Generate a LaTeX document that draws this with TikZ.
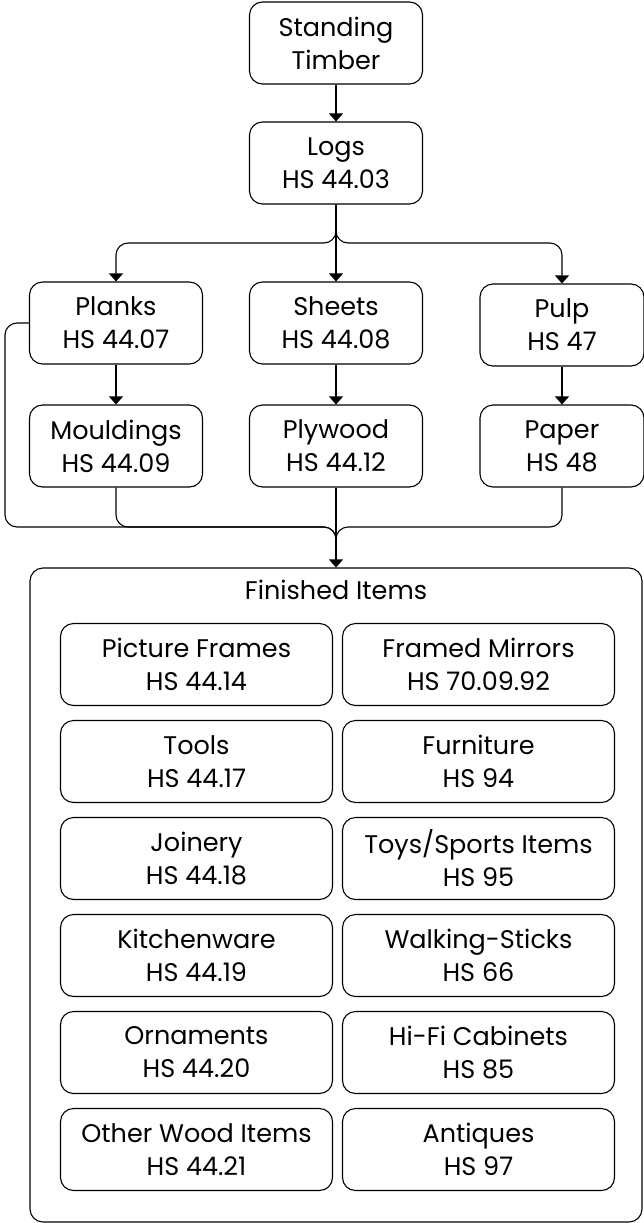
\documentclass[tikz,border=0pt]{standalone}
\usepackage{fontspec}
\setmainfont{Poppins}
\usepackage{tikz}
\usetikzlibrary{arrows.meta}
\tikzset{%
  tipA/.tip={Triangle[width=14pt,length=8pt]},
  box/.style={draw, rounded corners=13pt, line width=1.1pt, minimum width=173pt, minimum height=82pt, inner sep=0pt, align=center, font=\fontsize{25.5}{33}\selectfont},
  itembox/.style={box, minimum width=272pt},
  conn/.style={line width=1.1pt, rounded corners=12pt}
}
\begin{document}
\begin{tikzpicture}[x=1pt,y=-1pt]
\useasboundingbox (0,0) rectangle (644,1223);
\node[box] (timber) at (336,43) {Standing\\Timber};
\node[box] (logs) at (336,163) {Logs\\HS 44.03};
\node[box] (planks) at (116,323) {Planks\\HS 44.07};
\node[box] (sheets) at (336,323) {Sheets\\HS 44.08};
\node[box, minimum width=164pt] (pulp) at (562,325) {Pulp\\HS 47};
\node[box] (mouldings) at (116,446) {Mouldings\\HS 44.09};
\node[box] (plywood) at (336,446) {Plywood\\HS 44.12};
\node[box, minimum width=164pt] (paper) at (562,446) {Paper\\HS 48};
\node[box, minimum width=612pt, minimum height=654pt] (finished) at (336,895) {};
\node[font=\fontsize{25.5}{33}\selectfont] (fintitle) at (336,590) {Finished Items};
\node[itembox] (frames) at (196.5,664.5) {Picture Frames\\HS 44.14};
\node[itembox] (mirrors) at (478.5,664.5) {Framed Mirrors\\HS 70.09.92};
\node[itembox] (tools) at (196.5,761.5) {Tools\\HS 44.17};
\node[itembox] (furniture) at (478.5,761.5) {Furniture\\HS 94};
\node[itembox] (joinery) at (196.5,858.5) {Joinery\\HS 44.18};
\node[itembox] (toys) at (478.5,858.5) {Toys/Sports Items\\HS 95};
\node[itembox] (kitchen) at (196.5,955.5) {Kitchenware\\HS 44.19};
\node[itembox] (sticks) at (478.5,955.5) {Walking-Sticks\\HS 66};
\node[itembox] (ornaments) at (196.5,1052.5) {Ornaments\\HS 44.20};
\node[itembox] (hifi) at (478.5,1052.5) {Hi-Fi Cabinets\\HS 85};
\node[itembox] (otherwood) at (196.5,1149.5) {Other Wood Items\\HS 44.21};
\node[itembox] (antiques) at (478.5,1149.5) {Antiques\\HS 97};
\coordinate (split) at (336,243);
\coordinate (merge) at (336,527);
\coordinate (mergelow) at (336,550);
\coordinate (loopA) at (5,323);
\coordinate (loopB) at (5,527);
\draw[conn, -tipA] (timber) -- (logs);
\draw[conn, -tipA] (logs.south) -- (sheets.north);
\draw[conn, -tipA] (logs.south) -- (split) -| (planks.north);
\draw[conn, -tipA] (logs.south) -- (split) -| (pulp.north);
\draw[conn, -tipA] (planks) -- (mouldings);
\draw[conn, -tipA] (sheets) -- (plywood);
\draw[conn, -tipA] (pulp) -- (paper);
\draw[conn, -tipA] (plywood.south) -- (finished.north);
\draw[conn] (mouldings.south) |- (merge) -- (mergelow);
\draw[conn] (paper.south) |- (merge) -- (mergelow);
\draw[conn] (planks.west) -- (loopA) -- (loopB) -- (merge) -- (mergelow);
\end{tikzpicture}
\end{document}
